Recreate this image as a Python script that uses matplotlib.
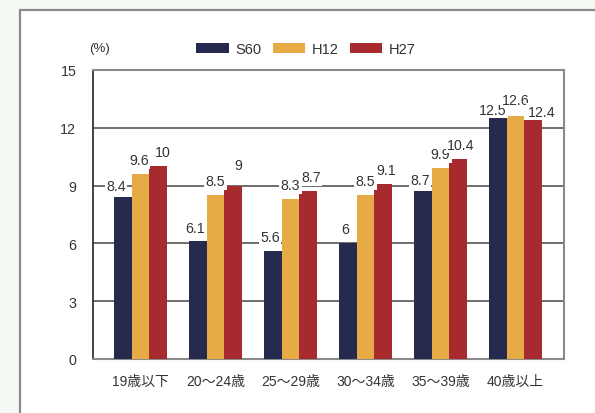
import matplotlib
matplotlib.use("Agg")
import matplotlib.pyplot as plt
from matplotlib.patches import Rectangle
import numpy as np

plt.rcParams['font.family'] = ['Liberation Sans', 'Noto Sans CJK JP', 'DejaVu Sans']

categories = ["19歳以下", "20～24歳", "25～29歳", "30～34歳", "35～39歳", "40歳以上"]
series_names = ["S60", "H12", "H27"]
s60 = [8.4, 6.1, 5.6, 6, 8.7, 12.5]
h12 = [9.6, 8.5, 8.3, 8.5, 9.9, 12.6]
h27 = [10, 9, 8.7, 9.1, 10.4, 12.4]
yticks = [0, 3, 6, 9, 12, 15]

colors = ["#252a4e", "#e6ab45", "#a72a2f"]
text_color = "#333333"

# value label nudges (points) per series, per group
label_dx = [[-5, -2, -2, -2, -2, -4], [-1, 0, 0, 0, 0, 0], [3, 4, 2, 2, 2, 6]]
label_dy = [[3, 5, 5, 5, 3, 1], [5, 5, 5, 5, 5, 7], [5, 10, 5, 5, 5, 1]]

W, H = 595, 414
fig = plt.figure(figsize=(W / 100, H / 100), dpi=100)
fig.patch.set_facecolor("#f4f8f2")

# white panel with a grey top/left border
panel = Rectangle((19.5 / W, -0.05), 1.2, 1 - 11 / H + 0.05,
                  transform=fig.transFigure, facecolor="white",
                  edgecolor="#8a8a8a", linewidth=1.6, zorder=-5)
fig.patches.append(panel)

ax = fig.add_axes([93 / W, 1 - 360 / H, (564 - 93) / W, (360 - 71) / H])
ax.set_facecolor("white")

x = np.arange(len(categories))
bw = 0.235
values = [s60, h12, h27]
for i, (vals, c, name) in enumerate(zip(values, colors, series_names)):
    xs = x + (i - 1) * bw
    ax.bar(xs, vals, width=bw, color=c, label=name, zorder=3, linewidth=0)
    for j, (xi, v) in enumerate(zip(xs, vals)):
        ax.annotate(f"{v:g}", (xi, v), xytext=(label_dx[i][j], label_dy[i][j]),
                    textcoords="offset points", ha="center", va="bottom",
                    fontsize=10.2, color=text_color, zorder=5,
                    bbox=dict(boxstyle="square,pad=0.1", facecolor="white",
                              edgecolor="none"))

ax.set_xlim(-0.633, 5.647)
ax.set_ylim(0, 15)
ax.set_yticks(yticks)
ax.set_xticks(x)
ax.set_xticklabels(categories)
ax.tick_params(axis="both", length=0, labelsize=10, colors=text_color)
ax.tick_params(axis="y", pad=12, labelsize=10.3)
ax.tick_params(axis="x", pad=11)

for yv in yticks[1:-1]:
    ax.axhline(yv, color="#555555", linewidth=1.2, zorder=1)

ax.spines["left"].set_color("#222222")
ax.spines["left"].set_linewidth(1.2)
for s in ["top", "right", "bottom"]:
    ax.spines[s].set_color("#8a8a8a")
    ax.spines[s].set_linewidth(1.5)

ax.text(99 / W, 1 - 49 / H, "(%)", transform=fig.transFigure, ha="center",
        va="center", fontsize=9.5, color=text_color)

fig.legend(loc="center", bbox_to_anchor=(306 / W, 1 - 50 / H), ncol=3,
           frameon=False, fontsize=10.5, handlelength=2.2, handleheight=0.62,
           handletextpad=0.45, columnspacing=0.8, labelcolor=text_color)

fig.savefig("out.png", dpi=100, facecolor=fig.get_facecolor())
